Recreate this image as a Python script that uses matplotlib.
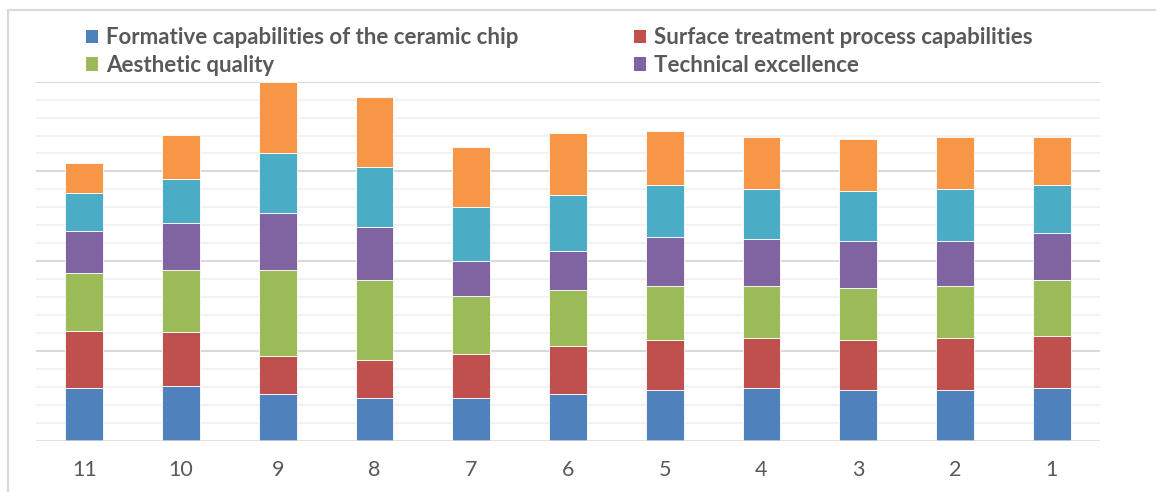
import matplotlib.pyplot as plt
from matplotlib.patches import Patch
from matplotlib.lines import Line2D

plt.rcParams['font.family'] = ['Lato', 'DejaVu Sans']

groups = ['11', '10', '9', '8', '7', '6', '5', '4', '3', '2', '1']

formative = [2.94, 3.05, 2.60, 2.38, 2.40, 2.60, 2.82, 2.94, 2.84, 2.84, 2.95]
surface = [3.19, 2.99, 2.10, 2.10, 2.41, 2.66, 2.77, 2.76, 2.75, 2.86, 2.87]
aesthetic = [3.23, 3.45, 4.79, 4.46, 3.23, 3.12, 3.01, 2.90, 2.90, 2.92, 3.12]
technical = [2.34, 2.66, 3.21, 2.98, 1.99, 2.20, 2.77, 2.65, 2.65, 2.52, 2.65]
series5 = [2.12, 2.43, 3.34, 3.33, 3.01, 3.13, 2.89, 2.79, 2.79, 2.90, 2.67]
series6 = [1.67, 2.45, 3.96, 3.90, 3.32, 3.43, 2.99, 2.88, 2.88, 2.88, 2.66]

series = [
    ('Formative capabilities of the ceramic chip', formative, '#4F81BD'),
    ('Surface treatment process capabilities', surface, '#C0504D'),
    ('Aesthetic quality', aesthetic, '#9BBB59'),
    ('Technical excellence', technical, '#8064A2'),
    ('', series5, '#4BACC6'),
    ('', series6, '#F79646'),
]

fig = plt.figure(figsize=(11.56, 4.92), dpi=100)
ax = fig.add_axes([0.0311, 0.1043, 0.9205, 0.7297])

# gridlines: light minor lines every unit, darker every five
for y in range(1, 21):
    col = '#D9D9D9' if y % 5 == 0 else '#F2F2F2'
    ax.axhline(y, color=col, lw=1.5, zorder=0)
ax.axhline(0, color='#D9D9D9', lw=1.8, zorder=3)

x = range(len(groups))
bottom = [0.0] * len(groups)
for name, vals, color in series:
    ax.bar(x, vals, width=0.39, bottom=bottom, color=color,
           edgecolor='#FFFFFF', linewidth=0.6, zorder=2)
    bottom = [b + v for b, v in zip(bottom, vals)]

ax.set_xlim(-0.5, len(groups) - 0.5)
ax.set_ylim(0, 20)
ax.set_xticks(list(x))
ax.set_xticklabels(groups, fontsize=15.5, color='#595959')
ax.tick_params(axis='x', length=0, pad=14)
ax.set_yticks([])
for s in ax.spines.values():
    s.set_visible(False)

# legend reads row by row: first two series on top, next two below
order = [0, 2, 1, 3]
handles = [Patch(facecolor=series[i][2], edgecolor='none') for i in order]
labels = [series[i][0] for i in order]
fig.legend(handles, labels, loc='upper left', bbox_to_anchor=(0.057, 0.985),
           ncol=2, frameon=False, prop={'weight': 'bold', 'size': 16},
           labelcolor='#595959', handlelength=0.55, handleheight=0.55,
           handletextpad=0.35, columnspacing=5.2, labelspacing=0.3)

# outer chart frame (left and top edges)
fig.add_artist(Line2D([0.0065, 0.0065], [0, 0.979], color='#D9D9D9', lw=1.5))
fig.add_artist(Line2D([0.0065, 1.0], [0.979, 0.979], color='#D9D9D9', lw=1.5))

fig.savefig('out.png', dpi=100)
